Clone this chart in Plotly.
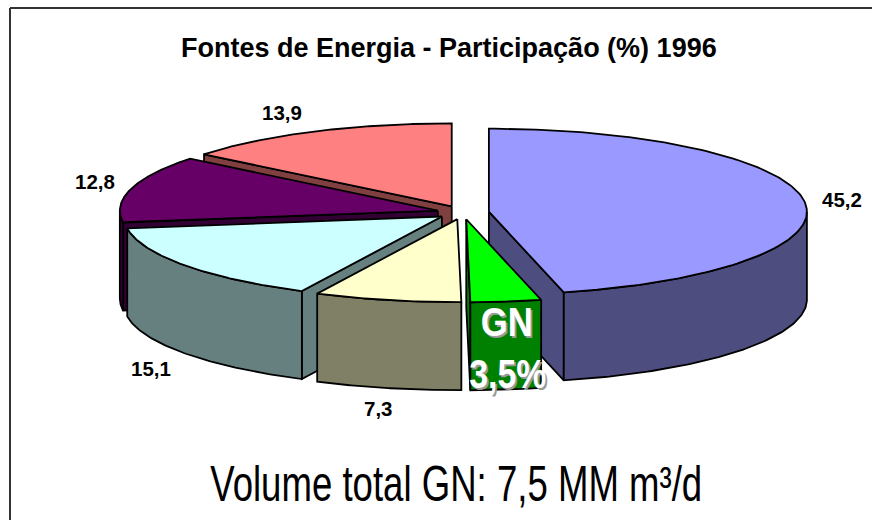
import json
import numpy as np
import plotly.graph_objects as go

categories = ["Fonte A", "GN", "Fonte B", "Fonte C", "Fonte D", "Fonte E"]
values = [45.2, 3.5, 7.3, 15.1, 12.8, 13.9]
value_labels = ["45,2", "", "7,3", "15,1", "12,8", "13,9"]
top_colors = ["#9999FF", "#00FF00", "#FFFFCC", "#CCFFFF", "#660066", "#FF8080"]
side_colors = ["#4D4D80", "#008000", "#808066", "#668080", "#330033", "#804040"]
title_text = "Fontes de Energia - Participação (%) 1996"
footer_text = "Volume total GN: 7,5 MM m³/d"

# oblique projection of the pie, in the pixel-sized axis units
CX, CY, RX, RY, DEPTH, EXPLODE = 463.0, 212.5, 318.0, 83.0, 88.0, 0.082
LINE = dict(color="black", width=1.8)
DRAW_ORDER = [5, 4, 3, 0, 2, 1]

fractions = np.array(values) / sum(values)
ends = np.cumsum(fractions) * 360.0
starts = ends - fractions * 360.0


def rim(theta, tip, drop=0.0):
    t = np.radians(theta)
    return tip[0] + RX * np.sin(t), tip[1] - RY * np.cos(t) + drop


def face(xs, ys, color, name):
    return go.Scatter(x=list(xs), y=list(ys), mode="lines", fill="toself",
                      fillcolor=color, line=LINE, name=name, hoverinfo="name",
                      showlegend=False)


fig = go.Figure()
for i in DRAW_ORDER:
    a, b = starts[i], ends[i]
    mid = np.radians((a + b) / 2)
    tip = (CX + EXPLODE * RX * np.sin(mid), CY - EXPLODE * RY * np.cos(mid))
    name = categories[i]
    visible_edges = []
    if np.sin(np.radians(a)) < -1e-9:
        visible_edges.append(a)
    if np.sin(np.radians(b)) > 1e-9:
        visible_edges.append(b)
    for edge in visible_edges:
        px, py = rim(edge, tip)
        fig.add_trace(face([tip[0], px, px, tip[0], tip[0]],
                           [tip[1], py, py + DEPTH, tip[1] + DEPTH, tip[1]],
                           side_colors[i], name))
    lo, hi = max(a, 90.0), min(b, 270.0)
    if lo < hi:
        arc = np.linspace(lo, hi, 90)
        x1, y1 = rim(arc, tip)
        x2, y2 = rim(arc[::-1], tip, DEPTH)
        fig.add_trace(face(np.r_[x1, x2, x1[0]], np.r_[y1, y2, y1[0]],
                           side_colors[i], name))
    arc = np.linspace(a, b, 160)
    x1, y1 = rim(arc, tip)
    fig.add_trace(face(np.r_[tip[0], x1, tip[0]], np.r_[tip[1], y1, tip[1]],
                       top_colors[i], name))

label_positions = [(842, 199), None, (378, 408), (151, 368), (95, 181), (282, 112)]
ann = []
for text, pos in zip(value_labels, label_positions):
    if pos:
        ann.append(dict(x=pos[0], y=pos[1], text=text, showarrow=False,
                        font=dict(family="Liberation Sans", size=20.5, color="black", weight="bold")))
ann.append(dict(x=449, y=48, text=title_text, showarrow=False,
                font=dict(family="Liberation Sans", size=27, color="black", weight="bold")))
ann.append(dict(x=456, y=484, text=footer_text, showarrow=False,
                font=dict(family="Liberation Sans", size=50, color="black")))
for text, y in (("GN", 322), ("3,5%", 374)):
    ann.append(dict(x=507, y=y, text=text, showarrow=False,
                    font=dict(family="Liberation Sans", size=41, color="white",
                              weight="bold", shadow="2px 2px 0 #999999")))

fig.update_layout(
    width=872, height=520, margin=dict(l=0, r=0, t=0, b=0),
    paper_bgcolor="white", plot_bgcolor="white", showlegend=False,
    xaxis=dict(range=[0, 872], visible=False, fixedrange=True),
    yaxis=dict(range=[520, 0], visible=False, fixedrange=True),
    annotations=ann,
    shapes=[
        dict(type="line", x0=10, y0=8, x1=872, y1=8, line=dict(color="#333333", width=2)),
        dict(type="line", x0=10, y0=8, x1=10, y1=520, line=dict(color="#333333", width=2)),
    ],
)

# the reference uses a condensed face, which is not installed: squeeze the text to its width
narrow_widths = {footer_text: 492, "GN": 52, "3,5%": 77}
post = (
    "document.body.style.margin='0';"
    "var w=" + json.dumps(narrow_widths, ensure_ascii=False) + ";"
    "document.querySelectorAll('.annotation-text').forEach(function(t){"
    "var n=w[t.textContent];"
    "if(n){var s=n/t.getComputedTextLength();var c=parseFloat(t.getAttribute('x'))||0;"
    "t.setAttribute('transform','translate('+c+',0) scale('+s+',1) translate('+(-c)+',0)');}"
    "});"
)
fig.write_html("out.html", post_script=post, config={"displayModeBar": False})
